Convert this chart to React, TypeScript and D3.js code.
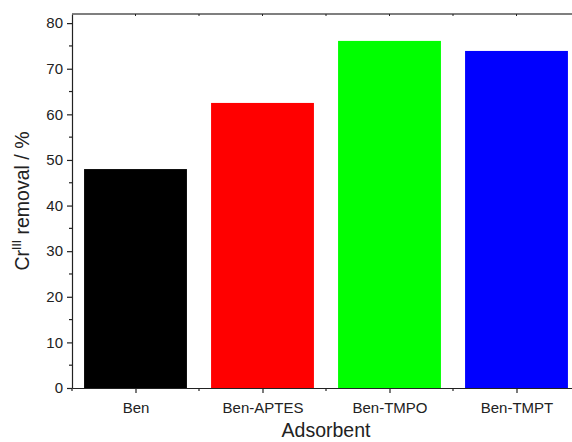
import React, { useEffect, useRef } from "react";
import * as d3 from "d3";

const categories = ["Ben", "Ben-APTES", "Ben-TMPO", "Ben-TMPT"];
const removal = [48.0, 62.5, 76.1, 73.9];
const barColors = ["#000000", "#ff0000", "#00ff00", "#0000ff"];
const yTicks = [0, 10, 20, 30, 40, 50, 60, 70, 80];

const App = () => {
  const ref = useRef<SVGSVGElement>(null);

  useEffect(() => {
    const svg = d3.select(ref.current);
    svg.selectAll("*").remove();

    const width = 572;
    const height = 442;
    const margin = { top: 14, left: 72, bottom: 54 };
    const font = "'Liberation Sans', Arial, sans-serif";

    const x = d3.scaleLinear().domain([0.5, 4.5]).range([margin.left, 580]);
    const y = d3
      .scaleLinear()
      .domain([0, 82])
      .range([height - margin.bottom, margin.top]);

    const barW = x(1.405) - x(0.595);

    svg
      .append("g")
      .selectAll("rect")
      .data(removal)
      .join("rect")
      .attr("x", (d, i) => x(i + 1) - barW / 2)
      .attr("y", (d) => y(d))
      .attr("width", barW)
      .attr("height", (d) => y(0) - y(d))
      .attr("fill", (d, i) => barColors[i]);

    // left axis
    const left = svg
      .append("g")
      .attr("transform", `translate(${margin.left},0)`)
      .call(
        d3
          .axisLeft(y)
          .tickValues(yTicks)
          .tickSize(5)
          .tickPadding(4)
          .tickSizeOuter(0)
      );
    left.select(".domain").attr("stroke", "#222").attr("stroke-width", 1.2);
    left.selectAll("line").attr("stroke", "#222").attr("stroke-width", 1.2);
    left
      .selectAll("text")
      .attr("font-family", font)
      .attr("font-size", 15)
      .attr("fill", "#222");
    svg
      .append("g")
      .selectAll("line")
      .data(d3.range(5, 82, 10))
      .join("line")
      .attr("x1", margin.left - 3)
      .attr("x2", margin.left)
      .attr("y1", (d) => y(d))
      .attr("y2", (d) => y(d))
      .attr("stroke", "#222")
      .attr("stroke-width", 1.2);

    // bottom axis
    const bottom = svg
      .append("g")
      .attr("transform", `translate(0,${y(0)})`)
      .call(
        d3
          .axisBottom(x)
          .tickValues([1, 2, 3, 4])
          .tickFormat((d) => categories[+d - 1])
          .tickSize(5)
          .tickPadding(9)
          .tickSizeOuter(0)
      );
    bottom.select(".domain").attr("stroke", "#222").attr("stroke-width", 1.2);
    bottom.selectAll("line").attr("stroke", "#222").attr("stroke-width", 1.2);
    bottom
      .selectAll("text")
      .attr("font-family", font)
      .attr("font-size", 15)
      .attr("fill", "#222");
    svg
      .append("g")
      .selectAll("line")
      .data([0.5, 1.5, 2.5, 3.5])
      .join("line")
      .attr("x1", (d) => x(d))
      .attr("x2", (d) => x(d))
      .attr("y1", y(0))
      .attr("y2", y(0) + 3)
      .attr("stroke", "#222")
      .attr("stroke-width", 1.2);

    // top frame
    svg
      .append("line")
      .attr("x1", margin.left)
      .attr("x2", width)
      .attr("y1", margin.top)
      .attr("y2", margin.top)
      .attr("stroke", "#555")
      .attr("stroke-width", 1.5);
    svg
      .append("g")
      .selectAll("line")
      .data([1, 1.5, 2, 2.5, 3, 3.5, 4])
      .join("line")
      .attr("x1", (d) => x(d))
      .attr("x2", (d) => x(d))
      .attr("y1", margin.top)
      .attr("y2", margin.top + 2)
      .attr("stroke", "#222");

    // axis titles
    svg
      .append("text")
      .attr("x", 326)
      .attr("y", 437)
      .attr("text-anchor", "middle")
      .attr("font-family", font)
      .attr("font-size", 19.5)
      .attr("fill", "#222")
      .text("Adsorbent");

    const yl = svg
      .append("text")
      .attr("transform", `translate(29,${(y(0) + y(82)) / 2}) rotate(-90)`)
      .attr("text-anchor", "middle")
      .attr("font-family", font)
      .attr("font-size", 19.5)
      .attr("fill", "#222");
    yl.append("tspan").text("Cr");
    yl.append("tspan")
      .attr("font-size", 12)
      .attr("dy", -8)
      .text("III");
    yl.append("tspan").attr("dy", 8).text(" removal / %");
  }, []);

  return (
    <svg
      ref={ref}
      width={572}
      height={442}
      style={{ position: "absolute", left: 0, top: 0, background: "#fff" }}
    ></svg>
  );
};

export default App;
